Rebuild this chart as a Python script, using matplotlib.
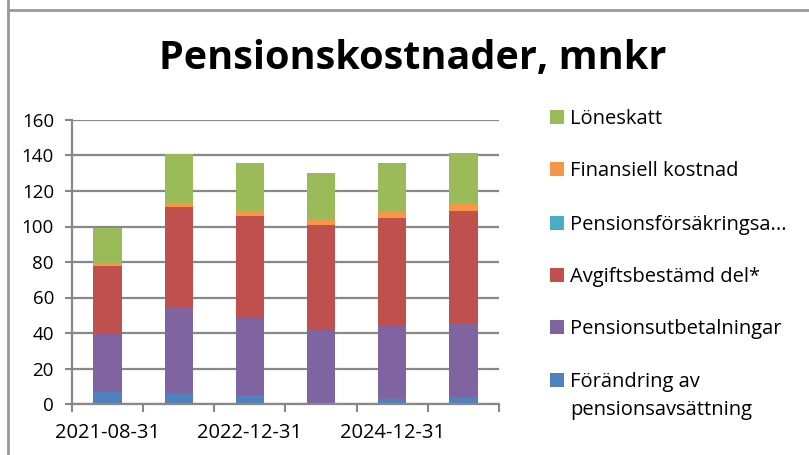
import matplotlib
matplotlib.use("Agg")
import matplotlib.pyplot as plt
from matplotlib.patches import Rectangle
from matplotlib.lines import Line2D
import numpy as np

categories = ["2021-08-31", "2021-12-31", "2022-12-31", "2023-12-31", "2024-12-31", "2025-12-31"]
shown_labels = ["2021-08-31", "", "2022-12-31", "", "2024-12-31", ""]

forandring = [7.0, 6.2, 5.1, 0.0, 2.8, 3.9]
utbetalningar = [33.0, 48.4, 43.5, 41.9, 41.7, 41.7]
avgiftsbestamd = [38.0, 56.4, 57.5, 58.9, 60.5, 63.1]
forsakring = [0.0, 0.0, 0.0, 0.0, 0.0, 0.0]
finansiell = [1.5, 2.2, 2.6, 3.4, 3.7, 4.5]
loneskatt = [19.8, 27.6, 27.1, 25.9, 27.1, 28.2]

series_names = ["Förändring av\npensionsavsättning", "Pensionsutbetalningar", "Avgiftsbestämd del*",
                "Pensionsförsäkringsa...", "Finansiell kostnad", "Löneskatt"]
series_values = [forandring, utbetalningar, avgiftsbestamd, forsakring, finansiell, loneskatt]
colors = ["#4F81BD", "#8064A2", "#C0504D", "#4BACC6", "#F79646", "#9BBB59"]

title = "Pensionskostnader, mnkr"
yticks = [0, 20, 40, 60, 80, 100, 120, 140, 160]

FONT = "Open Sans"
W, H = 809, 455
fig = plt.figure(figsize=(W / 100, H / 100), dpi=100)

ax = fig.add_axes([72 / W, 1 - 404 / H, 427 / W, 284 / H])
x = np.arange(len(categories))
bottom = np.zeros(len(categories))
for vals, c in zip(series_values, colors):
    ax.bar(x, vals, width=0.4, bottom=bottom, color=c, zorder=3, linewidth=0)
    bottom += np.array(vals)

grid_c = "#888888"
ax.set_xlim(-0.5, len(categories) - 0.5)
ax.set_ylim(0, 160)
ax.set_yticks(yticks)
ax.set_yticklabels([str(t) for t in yticks], fontsize=13.5, family=FONT)
ax.yaxis.grid(True, color=grid_c, linewidth=1.6, zorder=0)
ax.set_xticks(np.arange(-0.5, len(categories), 1.0))
ax.set_xticklabels([])
ax.set_xticks(x, minor=True)
ax.set_xticklabels(shown_labels, minor=True, fontsize=14.5, family=FONT)
ax.tick_params(axis="x", which="minor", length=0, pad=14)
ax.tick_params(axis="x", which="major", length=6, width=1.5, color=grid_c)
ax.tick_params(axis="y", length=5, width=1.5, color=grid_c, pad=8)
for s in ["top", "right"]:
    ax.spines[s].set_visible(False)
for s in ["left", "bottom"]:
    ax.spines[s].set_color(grid_c)
    ax.spines[s].set_linewidth(1.6)
    ax.spines[s].set_zorder(4)

fig.text(413 / W, 1 - 58 / H, title, ha="center", va="center", fontsize=28.5,
         fontweight="bold", family=FONT)

# legend, top entry first
ys = [117, 169, 223, 275, 327, 380]
for i, (name, c) in enumerate(zip(series_names[::-1], colors[::-1])):
    yc = ys[i]
    fig.patches.append(Rectangle((550 / W, 1 - (yc + 7) / H), 14 / W, 14 / H,
                                 transform=fig.transFigure, facecolor=c, edgecolor="none"))
    fig.text(570 / W, 1 - (yc - 8) / H, name, ha="left", va="top", fontsize=14.5,
             family=FONT, linespacing=1.5)

# outer frame lines
fig.add_artist(Line2D([8 / W, 8 / W], [0, 1], transform=fig.transFigure, color="#999999", linewidth=2))
fig.add_artist(Line2D([8 / W, 1], [1 - 10 / H, 1 - 10 / H], transform=fig.transFigure, color="#999999", linewidth=2))

fig.savefig("out.png", dpi=100)
